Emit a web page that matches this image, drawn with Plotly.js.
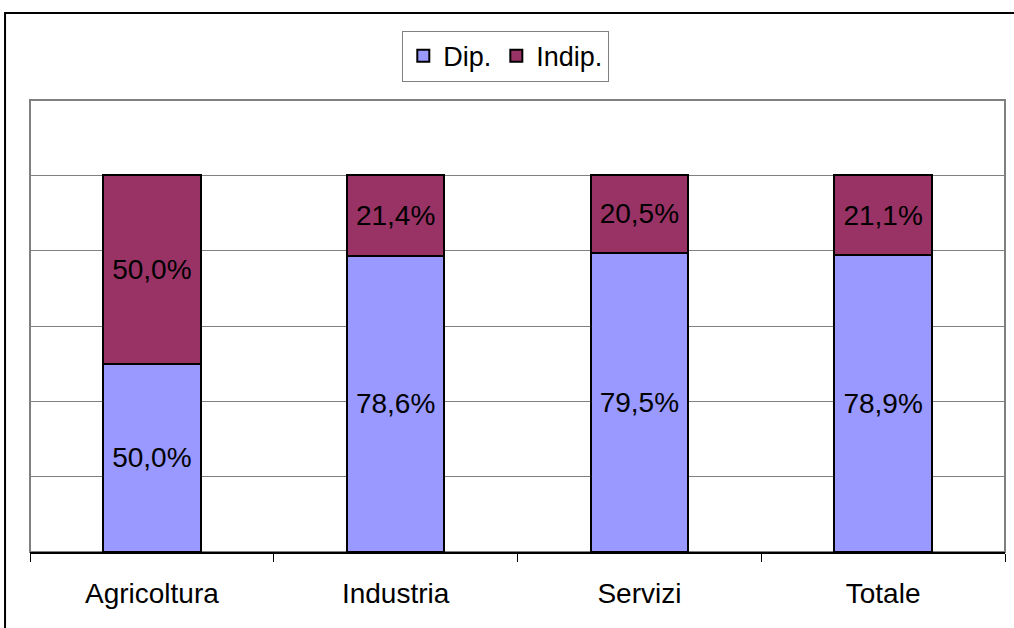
<!DOCTYPE html>
<html>
<head>
<meta charset="utf-8">
<script src="https://cdn.plot.ly/plotly-3.0.1.min.js"></script>
<style>html,body{margin:0;padding:0;background:#fff;}#chart{width:1014px;height:628px;}</style>
</head>
<body>
<div id="chart"></div>
<script>
const categories = ["Agricoltura", "Industria", "Servizi", "Totale"];
const dipValues = [50.0, 78.6, 79.5, 78.9];
const indipValues = [50.0, 21.4, 20.5, 21.1];
const seriesNames = ["Dip.", "Indip."];
const gridTicks = [0, 20, 40, 60, 80, 100];

function fmt(v) { return v.toFixed(1).replace('.', ',') + '%'; }

const FONT = 'Arial, Liberation Sans, sans-serif';
const barLine = {color: '#000000', width: 2};
const labelFont = {family: FONT, size: 28, color: '#000'};

const traces = [
  {
    type: 'bar', name: seriesNames[0], x: categories, y: dipValues,
    marker: {color: '#9999FF', line: barLine},
    text: dipValues.map(fmt), textposition: 'inside', insidetextanchor: 'middle',
    textfont: labelFont, hoverinfo: 'skip', cliponaxis: false
  },
  {
    type: 'bar', name: seriesNames[1], x: categories, y: indipValues,
    marker: {color: '#993366', line: barLine},
    text: indipValues.map(fmt), textposition: 'inside', insidetextanchor: 'middle',
    textfont: labelFont, hoverinfo: 'skip', cliponaxis: false
  }
];

const layout = {
  width: 1014, height: 628,
  margin: {l: 30, r: 9, t: 100, b: 76, pad: 0},
  paper_bgcolor: '#fff', plot_bgcolor: '#fff',
  barmode: 'stack', bargap: 0.6,
  showlegend: true,
  legend: {
    orientation: 'h', x: 0.488, xanchor: 'center', y: 1.097, yanchor: 'middle',
    bordercolor: '#808080', borderwidth: 1, bgcolor: '#fff',
    font: {family: FONT, size: 27, color: '#000'},
    traceorder: 'normal', itemwidth: 30, tracegroupgap: 0
  },
  xaxis: {
    type: 'category', tickson: 'boundaries', ticks: 'outside', ticklen: 8, tickcolor: '#000', tickwidth: 1,
    showline: true, linecolor: '#000', linewidth: 2, showgrid: false,
    tickfont: {family: FONT, size: 28, color: '#000'},
    ticklabelstandoff: 15,
    fixedrange: true
  },
  yaxis: {
    range: [0, 120], tickvals: gridTicks, showticklabels: false, ticks: '',
    showgrid: true, gridcolor: '#808080', gridwidth: 1, zeroline: false, showline: false,
    fixedrange: true
  },
  shapes: [
    {type: 'rect', xref: 'paper', yref: 'paper', x0: 0, x1: 1, y0: 0, y1: 1,
     line: {color: '#808080', width: 2}, layer: 'below'},
    {type: 'rect', xref: 'paper', yref: 'paper', x0: -0.0256, x1: 1.05, y0: -0.3, y1: 1.1925,
     line: {color: '#000', width: 2}, layer: 'below'}
  ]
};

Plotly.newPlot('chart', traces, layout, {displayModeBar: false, staticPlot: true});
</script>
</body>
</html>
